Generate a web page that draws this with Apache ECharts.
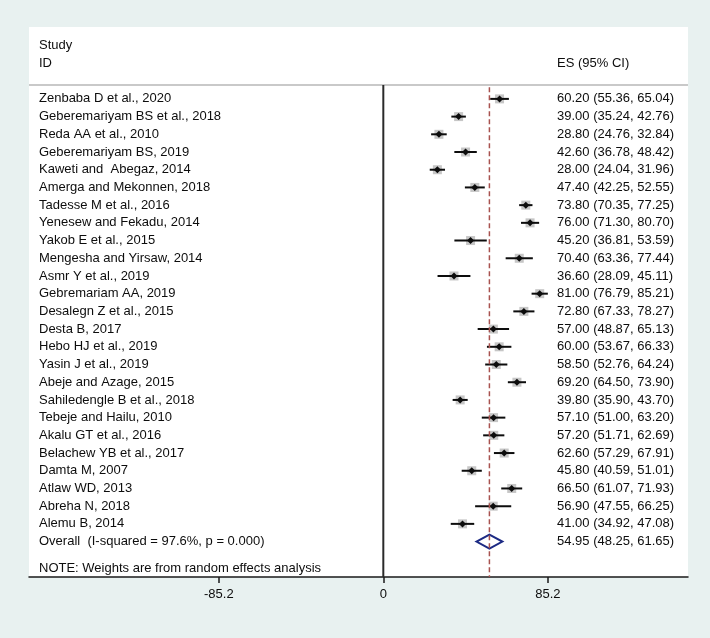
<!DOCTYPE html>
<html>
<head>
<meta charset="utf-8">
<script src="https://cdn.jsdelivr.net/npm/echarts@6/dist/echarts.min.js"></script>
<style>
  html, body { margin: 0; padding: 0; background: #e8f1f0; }
  #chart { width: 710px; height: 638px; }
</style>
</head>
<body>
<div id="chart"></div>
<script>
// forest plot, random effects
const studies = [
  'Zenbaba D et al., 2020', 'Geberemariyam BS et al., 2018', 'Reda AA et al., 2010',
  'Geberemariyam BS, 2019', 'Kaweti and  Abegaz, 2014', 'Amerga and Mekonnen, 2018',
  'Tadesse M et al., 2016', 'Yenesew and Fekadu, 2014', 'Yakob E et al., 2015',
  'Mengesha and Yirsaw, 2014', 'Asmr Y et al., 2019', 'Gebremariam AA, 2019',
  'Desalegn Z et al., 2015', 'Desta B, 2017', 'Hebo HJ et al., 2019',
  'Yasin J et al., 2019', 'Abeje and Azage, 2015', 'Sahiledengle B et al., 2018',
  'Tebeje and Hailu, 2010', 'Akalu GT et al., 2016', 'Belachew YB et al., 2017',
  'Damta M, 2007', 'Atlaw WD, 2013', 'Abreha N, 2018', 'Alemu B, 2014'
];
const es = [60.20, 39.00, 28.80, 42.60, 28.00, 47.40, 73.80, 76.00, 45.20, 70.40, 36.60, 81.00,
  72.80, 57.00, 60.00, 58.50, 69.20, 39.80, 57.10, 57.20, 62.60, 45.80, 66.50, 56.90, 41.00];
const lower = [55.36, 35.24, 24.76, 36.78, 24.04, 42.25, 70.35, 71.30, 36.81, 63.36, 28.09, 76.79,
  67.33, 48.87, 53.67, 52.76, 64.50, 35.90, 51.00, 51.71, 57.29, 40.59, 61.07, 47.55, 34.92];
const upper = [65.04, 42.76, 32.84, 48.42, 31.96, 52.55, 77.25, 80.70, 53.59, 77.44, 45.11, 85.21,
  78.27, 65.13, 66.33, 64.24, 73.90, 43.70, 63.20, 62.69, 67.91, 51.01, 71.93, 66.25, 47.08];
const overallLabel = 'Overall  (I-squared = 97.6%, p = 0.000)';
const overall = [54.95, 48.25, 61.65];
const noteText = 'NOTE: Weights are from random effects analysis';
const xTicks = [-85.2, 0, 85.2];

const X_MIN = -183.5, X_MAX = 157.8;
const Y_MIN = -4.06, Y_MAX = 27.0;
const FONT = '"Liberation Sans", Arial, sans-serif';
const TXT = '#0d0d0d';
const ES_X = 528; // px from grid left

function ciText(e, l, u) {
  return e.toFixed(2) + ' (' + l.toFixed(2) + ', ' + u.toFixed(2) + ')';
}

function txt(x, y, s) {
  return {
    type: 'text', x: x, y: y,
    style: { text: s, fontSize: 13, fontFamily: FONT, fill: TXT, textAlign: 'left', textVerticalAlign: 'middle' }
  };
}

const studyData = studies.map(function(s, i) { return [i, es[i], lower[i], upper[i]]; });

const chart = echarts.init(document.getElementById('chart'));
const option = {
  backgroundColor: '#e8f1f0',
  animation: false,
  grid: {
    left: 29, right: 22, top: 27, bottom: 61,
    show: true, backgroundColor: '#ffffff', borderWidth: 0
  },
  xAxis: {
    type: 'value', min: X_MIN, max: X_MAX,
    splitLine: { show: false },
    axisLine: { show: true, onZero: false, lineStyle: { color: '#1a1a1a', width: 1.5 } },
    axisTick: { show: true, customValues: xTicks, length: 6, lineStyle: { color: '#1a1a1a', width: 1.5 } },
    axisLabel: {
      customValues: xTicks, margin: 11, fontSize: 13, fontFamily: FONT, color: TXT,
      formatter: function(v) { return String(v); }
    }
  },
  yAxis: {
    type: 'value', inverse: true, min: Y_MIN, max: Y_MAX, show: false
  },
  series: [{
    // header separator
    type: 'line', symbol: 'none', silent: true,
    data: [[X_MIN, -0.79], [X_MAX, -0.79]],
    lineStyle: { color: '#c9c9c9', width: 2 }
  }, {
    // no-effect line
    type: 'line', symbol: 'none', silent: true,
    data: [[0, -0.79], [0, Y_MAX]],
    lineStyle: { color: '#2a2a2a', width: 2 }
  }, {
    // pooled estimate line
    type: 'line', symbol: 'none', silent: true,
    data: [[overall[0], -0.66], [overall[0], Y_MAX]],
    lineStyle: { color: '#a8524f', width: 1.5, type: [5, 3] }
  }, {
    type: 'custom',
    data: studyData,
    renderItem: function(params, api) {
      const i = api.value(0);
      const c = api.coord([api.value(1), i]);
      const l = api.coord([api.value(2), i]);
      const h = api.coord([api.value(3), i]);
      const cs = params.coordSys;
      return {
        type: 'group',
        children: [
          { type: 'rect', shape: { x: c[0] - 4.5, y: c[1] - 4.5, width: 9, height: 9 }, style: { fill: '#c6c6c6' } },
          { type: 'line', shape: { x1: l[0], y1: l[1], x2: h[0], y2: h[1] }, style: { stroke: '#0d0d0d', lineWidth: 2 } },
          { type: 'polygon', shape: { points: [[c[0] - 3.5, c[1]], [c[0], c[1] - 3.5], [c[0] + 3.5, c[1]], [c[0], c[1] + 3.5]] }, style: { fill: '#0d0d0d' } },
          txt(cs.x + 10, c[1], studies[params.dataIndex]),
          txt(cs.x + ES_X, c[1], ciText(api.value(1), api.value(2), api.value(3)))
        ]
      };
    }
  }, {
    type: 'custom',
    data: [[25, overall[0], overall[1], overall[2]]],
    renderItem: function(params, api) {
      const i = api.value(0);
      const c = api.coord([api.value(1), i]);
      const l = api.coord([api.value(2), i]);
      const h = api.coord([api.value(3), i]);
      const cs = params.coordSys;
      return {
        type: 'group',
        children: [
          { type: 'polygon', shape: { points: [[l[0], c[1]], [c[0], c[1] - 7], [h[0], c[1]], [c[0], c[1] + 7]] },
            style: { fill: '#fff', stroke: '#1c2a84', lineWidth: 2 } },
          txt(cs.x + 10, c[1], overallLabel),
          txt(cs.x + ES_X, c[1], ciText(api.value(1), api.value(2), api.value(3)))
        ]
      };
    }
  }, {
    // header and footnote text
    type: 'custom',
    data: [[-3, 0], [-2, 1], [26.5, 2]],
    renderItem: function(params, api) {
      const y = api.coord([0, api.value(0)])[1];
      const cs = params.coordSys;
      const k = api.value(1);
      if (k === 0) return txt(cs.x + 10, y, 'Study');
      if (k === 1) return { type: 'group', children: [txt(cs.x + 10, y, 'ID'), txt(cs.x + ES_X, y, 'ES (95% CI)')] };
      return txt(cs.x + 10, y, noteText);
    }
  }]
};
chart.setOption(option, true);
</script>
</body>
</html>
